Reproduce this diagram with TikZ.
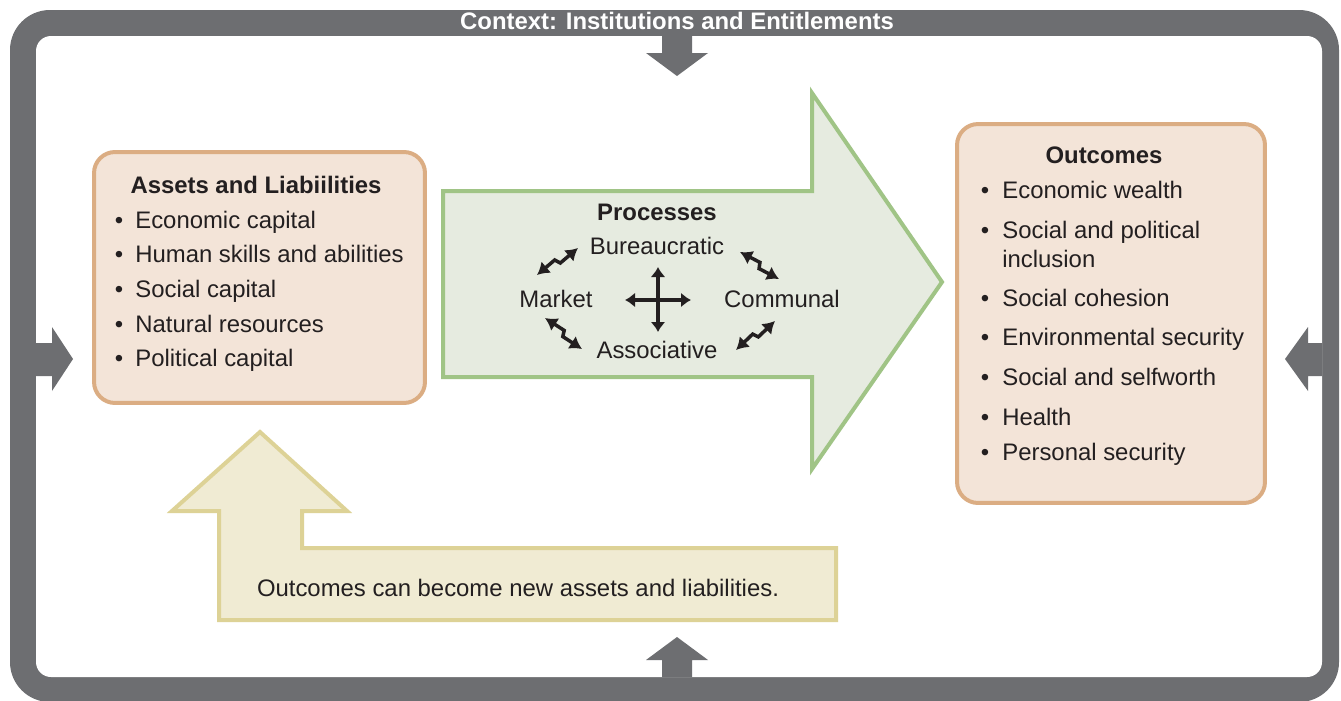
\documentclass[tikz,border=0pt]{standalone}
\usepackage{fontspec}
\setmainfont{Liberation Sans}
\usetikzlibrary{arrows.meta,calc}

\definecolor{framegray}{HTML}{6D6E71}
\definecolor{boxline}{HTML}{DBAD83}
\definecolor{boxfill}{HTML}{F3E4D8}
\definecolor{procline}{HTML}{A0C486}
\definecolor{procfill}{HTML}{E6EBE0}
\definecolor{backline}{HTML}{DDD296}
\definecolor{backfill}{HTML}{F0EBD3}
\definecolor{textdark}{HTML}{231F20}

\begin{document}
\begin{tikzpicture}[x=0.02cm,y=-0.02cm,
    every node/.style={inner sep=0pt,text=textdark,font=\fontsize{13.6}{16}\selectfont},
    listbox/.style={draw=boxline,fill=boxfill,line width=0.08cm,rounded corners=0.42cm},
    bigarrow/.style={line width=0.08cm,line join=miter},
    framearrow/.style={fill=framegray},
    crossarrow/.style={{Latex[length=0.2cm,width=0.3cm]}-{Latex[length=0.2cm,width=0.3cm]},line width=0.07cm,textdark},
    zigarrow/.style={{Latex[length=0.24cm,width=0.3cm]}-{Latex[length=0.24cm,width=0.3cm]},line width=0.07cm,line join=miter,textdark}]
    \clip (0,0) rectangle (1341,700);
    % context frame
    \fill [framegray, rounded corners=0.8cm] (10,10) rectangle (1339,702);
    \fill [white, rounded corners=0.3cm] (36,36) rectangle (1322,677);
    \node [anchor=base, text=white, font=\fontsize{13.6}{16}\selectfont\bfseries] (context) at (677,29) {Context: Institutions and Entitlements};
    \fill [framearrow] (662,36) -- (692,36) -- (692,53) -- (708,53) -- (677,76) -- (646,53) -- (662,53) -- cycle;
    \fill [framearrow] (662,677) -- (692,677) -- (692,660) -- (708,660) -- (677,637) -- (646,660) -- (662,660) -- cycle;
    \fill [framearrow] (36,343) -- (52,343) -- (52,327) -- (73,359) -- (52,391) -- (52,376) -- (36,376) -- cycle;
    \fill [framearrow] (1322,343) -- (1308,343) -- (1308,327) -- (1285,359) -- (1308,391) -- (1308,376) -- (1322,376) -- cycle;

    % feedback arrow
    \draw [bigarrow, draw=backline, fill=backfill] (219,620) -- (219,511) -- (172,511) -- (260,432) -- (347,511) -- (302,511) -- (302,548) -- (836,548) -- (836,620) -- cycle;
    \node [anchor=base] (feedback) at (518,596) {Outcomes can become new assets and liabilities.};

    % processes arrow
    \draw [bigarrow, draw=procline, fill=procfill] (443,191) -- (812,191) -- (812,93) -- (942,282) -- (812,469) -- (812,377) -- (443,377) -- cycle;
    \node [anchor=base, font=\fontsize{13.6}{16}\selectfont\bfseries] (proc) at (657,220) {Processes};
    \node [anchor=base] (bur) at (657,254) {Bureaucratic};
    \node [anchor=base] (mkt) at (556,307) {Market};
    \node [anchor=base] (com) at (782,307) {Communal};
    \node [anchor=base] (ass) at (657,358) {Associative};
    \coordinate (cn) at (658,267);
    \coordinate (cs) at (658,332);
    \coordinate (cw) at (625,300);
    \coordinate (ce) at (691,300);
    \draw [crossarrow] (cw) -- (ce);
    \draw [crossarrow] (cn) -- (cs);
    \foreach \from/\to in {{537,275}/{578,248}, {740,252}/{779,279}, {545,318}/{582,349}, {736,350}/{775,321}} {
        \coordinate (za) at (\from);
        \coordinate (zb) at (\to);
        \draw [zigarrow] (za) -- ($(za)!0.47!(zb)!1.6pt!90:(zb)$) -- ($(za)!0.53!(zb)!-1.6pt!90:(zb)$) -- (zb);
    }

    % assets box
    \node [listbox, minimum width=6.62cm, minimum height=5.02cm] (assets) at (259.5,277.5) {};
    \node [anchor=base, font=\fontsize{13.6}{16}\selectfont\bfseries] (assetstitle) at (256,193) {Assets and Liabiilities};
    \foreach \yy/\txt [count=\i] in {228/Economic capital, 262/Human skills and abilities, 297/Social capital, 332/Natural resources, 366/Political capital} {
        \node [anchor=base] (ab\i) at (119,\yy) {\textbullet};
        \node [anchor=base west] (ai\i) at (135,\yy) {\txt};
    }

    % outcomes box
    \node [listbox, minimum width=6.16cm, minimum height=7.58cm] (outcomes) at (1111,313.5) {};
    \node [anchor=base, font=\fontsize{13.6}{16}\selectfont\bfseries] (outtitle) at (1104,163) {Outcomes};
    \foreach \yy/\txt [count=\i] in {198/Economic wealth, 238/Social and political, 306/Social cohesion, 345/Environmental security, 385/Social and selfworth, 425/Health, 460/Personal security} {
        \node [anchor=base] (ob\i) at (985,\yy) {\textbullet};
        \node [anchor=base west] (oi\i) at (1002,\yy) {\txt};
    }
    \node [anchor=base west] (oi2b) at (1002,267) {inclusion};
\end{tikzpicture}
\end{document}
